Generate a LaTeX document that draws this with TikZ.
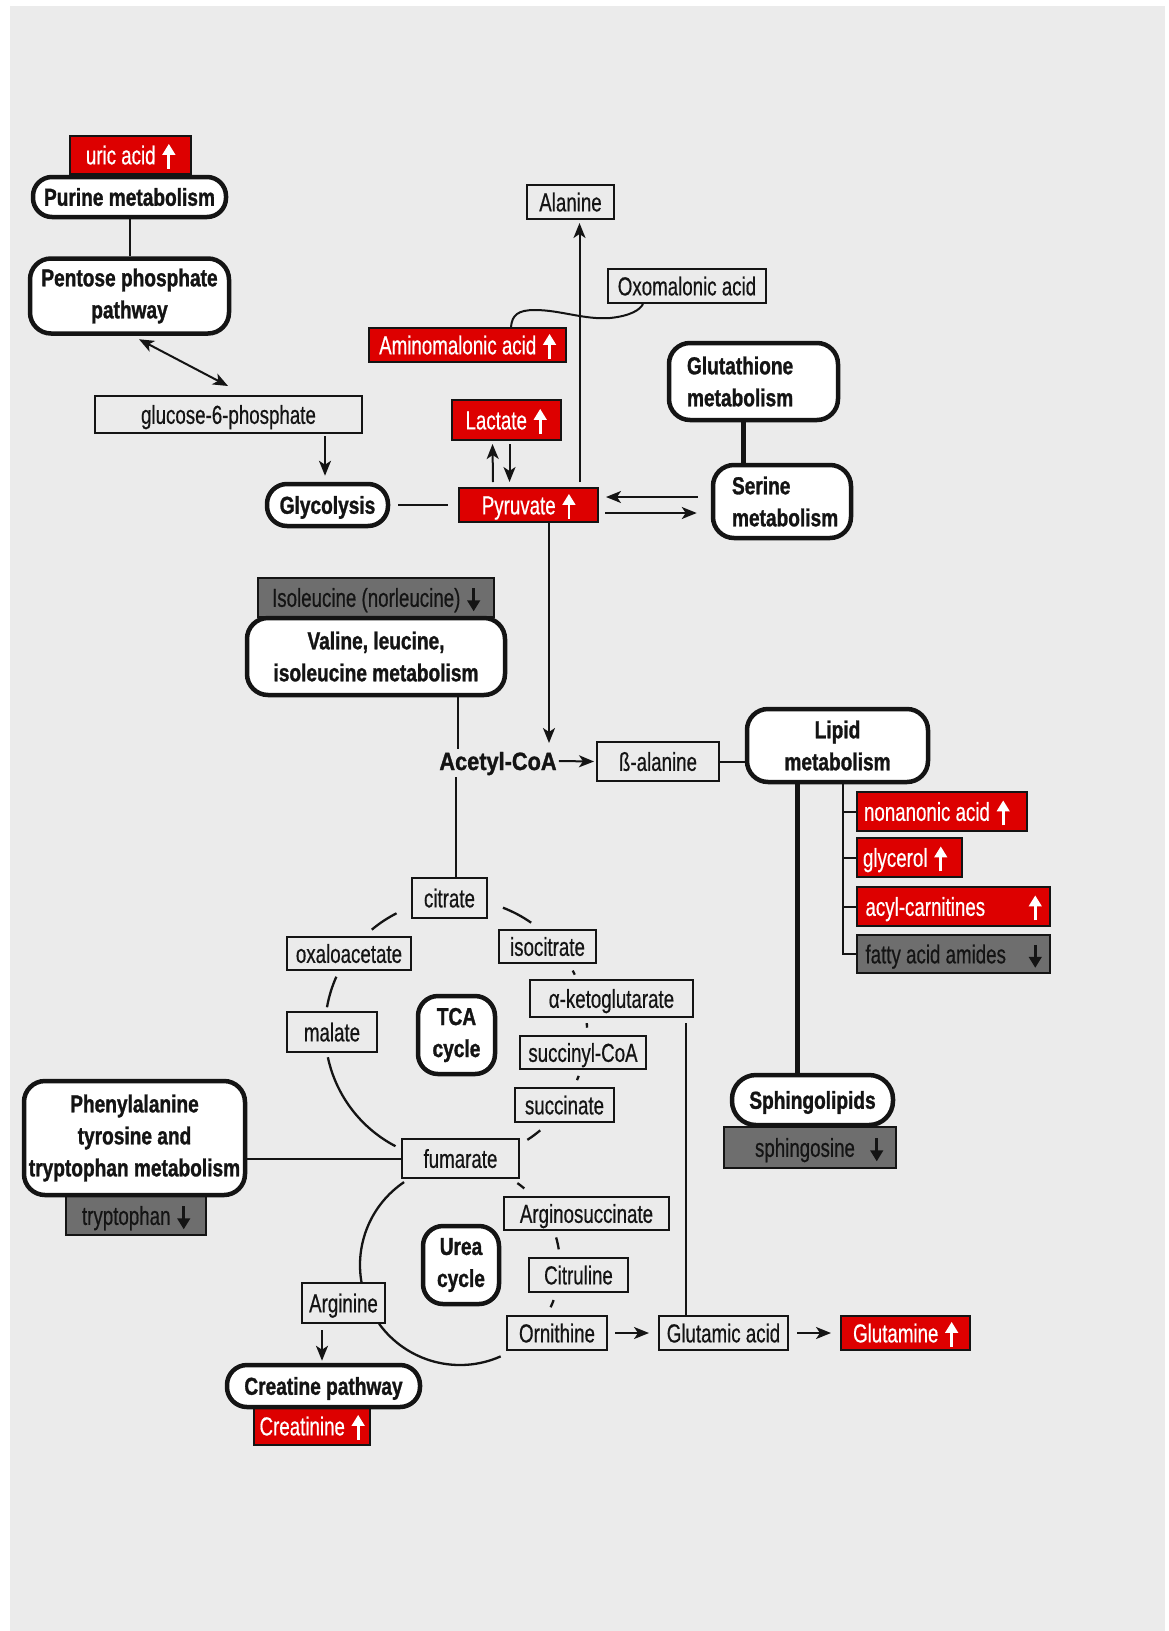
\documentclass[tikz,border=0pt]{standalone}
\usepackage{graphicx}
\usepackage{fontspec}
\setmainfont{Liberation Sans}[FakeStretch=0.72,FakeBold=0.5,BoldFeatures={FakeStretch=0.78,FakeBold=1.2}]
\newfontfamily\acfont{Liberation Sans}[FakeStretch=0.87,BoldFeatures={FakeBold=1.2}]
\usetikzlibrary{arrows.meta,calc}
\definecolor{bgc}{RGB}{235,235,235}
\definecolor{redf}{RGB}{221,0,0}
\definecolor{grayf}{RGB}{110,110,110}
\definecolor{ink}{RGB}{20,20,20}
\newcommand\upa{\hspace{7pt}\tikz[baseline=0pt,x=1pt,y=1pt]\draw[white, line width=2.8pt, -{Triangle[length=11pt,width=12.5pt]}] (0,-4.5) -- (0,20.5);}
\newcommand\dna{\hspace{7pt}\tikz[baseline=0pt,x=1pt,y=1pt]\draw[ink, line width=2.8pt, -{Triangle[length=11pt,width=12.5pt]}] (0,18.5) -- (0,-4.5);}
\newcommand\carc[4]{\draw[arcl] ([shift={(#2:#4)}]#1) arc[start angle=#2, end angle=#3, radius=#4];}
\tikzset{
  every node/.style={text=ink},
  bx/.style={draw=ink, line width=2pt, fill=bgc, inner sep=0pt, font=\fontsize{26}{32}\selectfont, text height=18.7pt, text depth=0pt},
  rbx/.style={bx, fill=redf, text=white},
  gbx/.style={bx, fill=grayf},
  pw/.style={draw=ink, line width=4.5pt, fill=white, inner sep=0pt, rounded corners=21pt, font=\bfseries\fontsize{24.5}{32}\selectfont, align=center},
  pw1/.style={pw, text height=17.5pt, text depth=0pt},
  conn/.style={draw=ink, line width=2pt},
  arr/.style={conn, ->},
  heavy/.style={draw=ink, line width=5pt},
  arcl/.style={draw=ink, line width=2.3pt},
}
\begin{document}
\begin{tikzpicture}[x=1pt, y=-1pt, >={Stealth[length=15pt,width=12pt,inset=4pt]}]
\useasboundingbox (0,0) rectangle (1168,1631);
\fill[bgc] (10,6) rectangle (1165,1631);

% upper left
\node[rbx, minimum width=121, minimum height=38] (uric) at (130.5,155) {uric acid\upa};
\node[pw1, rounded corners=19pt, minimum width=193, minimum height=40] (purine) at (129.5,197) {Purine metabolism};
\node[pw, minimum width=199, minimum height=75] (pentose) at (129.5,296) {Pentose phosphate\\pathway};
\node[bx, minimum width=267, minimum height=37] (g6p) at (228.5,414.5) {glucose-6-phosphate};
\node[pw1, rounded corners=20pt, minimum width=121, minimum height=42] (glyco) at (327.5,505) {Glycolysis};
\node[rbx, minimum width=139, minimum height=34] (pyr) at (528.5,505) {Pyruvate\upa};
\node[rbx, minimum width=109, minimum height=40] (lac) at (506,420) {Lactate\upa};
\node[bx, minimum width=87, minimum height=34] (ala) at (570.5,202) {Alanine};
\node[bx, minimum width=158, minimum height=34] (oxo) at (687,286) {Oxomalonic acid};
\node[rbx, minimum width=197, minimum height=34] (amino) at (467.5,345) {Aminomalonic acid\upa};
\node[pw, minimum width=169, minimum height=77, text width=133pt, align=left] (gluta) at (753.5,381.5) {Glutathione\\metabolism};
\node[pw, minimum width=138, minimum height=73, text width=100pt, align=left] (serine) at (782,501.5) {Serine\\metabolism};

% middle
\node[gbx, minimum width=236, minimum height=39] (iso) at (376,597.5) {Isoleucine (norleucine)\dna};
\node[pw, minimum width=258, minimum height=77] (val) at (376,656.5) {Valine, leucine,\\isoleucine metabolism};
\node[inner sep=0pt, font=\acfont\bfseries\fontsize{25}{30}\selectfont, text height=18pt, text depth=0pt] (acetyl) at (498,761) {Acetyl-CoA};
\node[bx, minimum width=122, minimum height=39] (bala) at (658,761.5) {ß-alanine};
\node[pw, minimum width=181, minimum height=73] (lipid) at (837.5,745.5) {Lipid\\metabolism};
\node[rbx, minimum width=170, minimum height=39] (nona) at (942,811.5) {\makebox[156pt][l]{nonanonic acid\upa}};
\node[rbx, minimum width=105, minimum height=39] (glyc) at (909.5,857.5) {\makebox[93pt][l]{glycerol\upa}};
\node[rbx, minimum width=193, minimum height=39] (acyl) at (953.5,906.5) {\makebox[176pt][l]{acyl-carnitines\hfill\upa}};
\node[gbx, minimum width=193, minimum height=38] (fatty) at (953.5,954) {\makebox[176pt][l]{fatty acid amides\hfill\dna}};
\node[gbx, minimum width=172, minimum height=41] (sphos) at (810,1147.5) {\hspace*{18pt}\makebox[128pt][l]{sphingosine\hfill\dna}};
\node[pw1, rounded corners=24pt, minimum width=161, minimum height=50] (sphingo) at (812.5,1100) {Sphingolipids};

% TCA cycle
\node[bx, minimum width=75, minimum height=40] (cit) at (449.5,898) {citrate};
\node[bx, minimum width=124, minimum height=33] (oaa) at (349,953.5) {oxaloacetate};
\node[bx, minimum width=97, minimum height=33] (icit) at (547.5,946.5) {isocitrate};
\node[bx, minimum width=163, minimum height=37] (akg) at (611.5,998.5) {α-ketoglutarate};
\node[bx, minimum width=90, minimum height=40] (mal) at (332,1032) {malate};
\node[pw, rounded corners=20pt, minimum width=77, minimum height=78] (tca) at (456.5,1035) {TCA\\cycle};
\node[bx, minimum width=126, minimum height=33] (scoa) at (583,1052.5) {succinyl-CoA};
\node[bx, minimum width=99, minimum height=34] (succ) at (564.5,1105) {succinate};
\node[bx, minimum width=117, minimum height=39] (fum) at (460.5,1158.5) {fumarate};

% urea cycle and lower part
\node[bx, minimum width=165, minimum height=33] (asuc) at (586.5,1213.5) {Arginosuccinate};
\node[gbx, minimum width=140, minimum height=39] (trp) at (136,1215.5) {tryptophan\dna};
\node[pw, minimum width=221, minimum height=114] (phe) at (134.5,1138) {Phenylalanine\\tyrosine and\\tryptophan metabolism};
\node[pw, rounded corners=20pt, minimum width=76, minimum height=78] (urea) at (461,1265) {Urea\\cycle};
\node[bx, minimum width=99, minimum height=34] (citr) at (578.5,1275) {Citruline};
\node[bx, minimum width=83, minimum height=40] (arg) at (343.5,1303) {Arginine};
\node[bx, minimum width=100, minimum height=34] (orn) at (557,1333) {Ornithine};
\node[bx, minimum width=129, minimum height=34] (glu) at (723.5,1333) {Glutamic acid};
\node[rbx, minimum width=129, minimum height=34] (gln) at (905.5,1333) {Glutamine\upa};
\node[rbx, minimum width=116, minimum height=38] (crn) at (312,1426) {Creatinine\upa};
\node[pw1, rounded corners=20pt, minimum width=193, minimum height=42] (creat) at (323.5,1386) {Creatine pathway};

% connectors
\draw[conn] (purine.south) -- (pentose.north);
\draw[conn, <->] ($(pentose.south)+(9.5,3.5)$) -- ($(g6p.north)+(-0.5,-9)$);
\draw[arr] ($(g6p.south)+(96.5,2)$) -- ($(glyco.north)+(-2.5,-6)$);
\draw[conn] ($(glyco.east)+(8,0)$) -- ($(pyr.west)+(-10,0)$);
\draw[arr] ($(pyr.north)+(-35.5,-5)$) -- ($(lac.south)+(-13.5,3)$);
\draw[arr] ($(lac.south)+(3.5,3)$) -- ($(pyr.north)+(-19,-5)$);
\draw[arr] ($(pyr.north)+(51,-5)$) -- ($(ala.south)+(9,3)$);
\draw[conn] ($(amino.north)+(43.5,0)$) .. controls (512,315) and (518,310) .. (535,310)
  .. controls (560,310) and (585,320) .. (610,318)
  .. controls (630,316) and (640,310) .. ($(oxo.south)+(-44,0)$);
\draw[arr] ($(serine.west)+(-13,-4.5)$) -- ($(pyr.east)+(7,-8)$);
\draw[arr] ($(pyr.east)+(6,8)$) -- ($(serine.west)+(-14,11.5)$);
\draw[heavy] ($(gluta.south)+(-10.5,0)$) -- ($(serine.north)+(-39,0)$);
\draw[arr] ($(pyr.south)+(20.5,0)$) -- ++(0,220);
\draw[conn] ($(val.south)+(82,0)$) -- ++(0,52);
\draw[arr] ($(acetyl.east)+(2,0)$) -- ($(bala.west)+(-2,0)$);
\draw[conn] ($(cit.north)+(6.5,0)$) -- ++(0,-100);
\draw[conn] (bala.east) -- (bala.east -| lipid.west);
\draw[heavy] ($(lipid.south)+(-40.5,0)$) -- ($(sphingo.north)+(-15.5,0)$);
\draw[conn] ($(lipid.south)+(5.5,0)$) |- (fatty.west);
\draw[conn] (nona.west) -- ++(-14,0);
\draw[conn] (glyc.west) -- ++(-14,0);
\draw[conn] (acyl.west) -- ++(-14,0);
\draw[conn] ($(akg.south)+(74.5,5)$) -- ($(glu.north)+(-37.5,0)$);
\draw[conn] (fum.west) -- (fum.west -| phe.east);
\draw[arr] ($(orn.east)+(7,0)$) -- ($(glu.west)+(-9,0)$);
\draw[arr] ($(glu.east)+(8,0)$) -- ($(gln.west)+(-9,0)$);
\draw[arr] ($(arg.south)+(-21.5,6)$) -- ($(creat.north)+(-1.5,-2)$);

% cycle arcs
\coordinate (tcac) at (456,1030);
\carc{tcac}{230}{243}{131}
\carc{tcac}{-69}{-55}{131}
\carc{tcac}{-27}{-25}{131}
\carc{tcac}{-3}{-1}{131}
\carc{tcac}{20.5}{22.5}{131}
\carc{tcac}{50}{57}{131}
\carc{tcac}{117.5}{168}{131}
\carc{tcac}{190}{204}{131}
\coordinate (ureac) at (460,1265);
\carc{ureac}{170}{236}{100}
\carc{ureac}{66}{144}{100}
\carc{ureac}{-55}{-50}{100}
\carc{ureac}{-16}{-9}{100}
\carc{ureac}{20.5}{25}{100}
\end{tikzpicture}
\end{document}
